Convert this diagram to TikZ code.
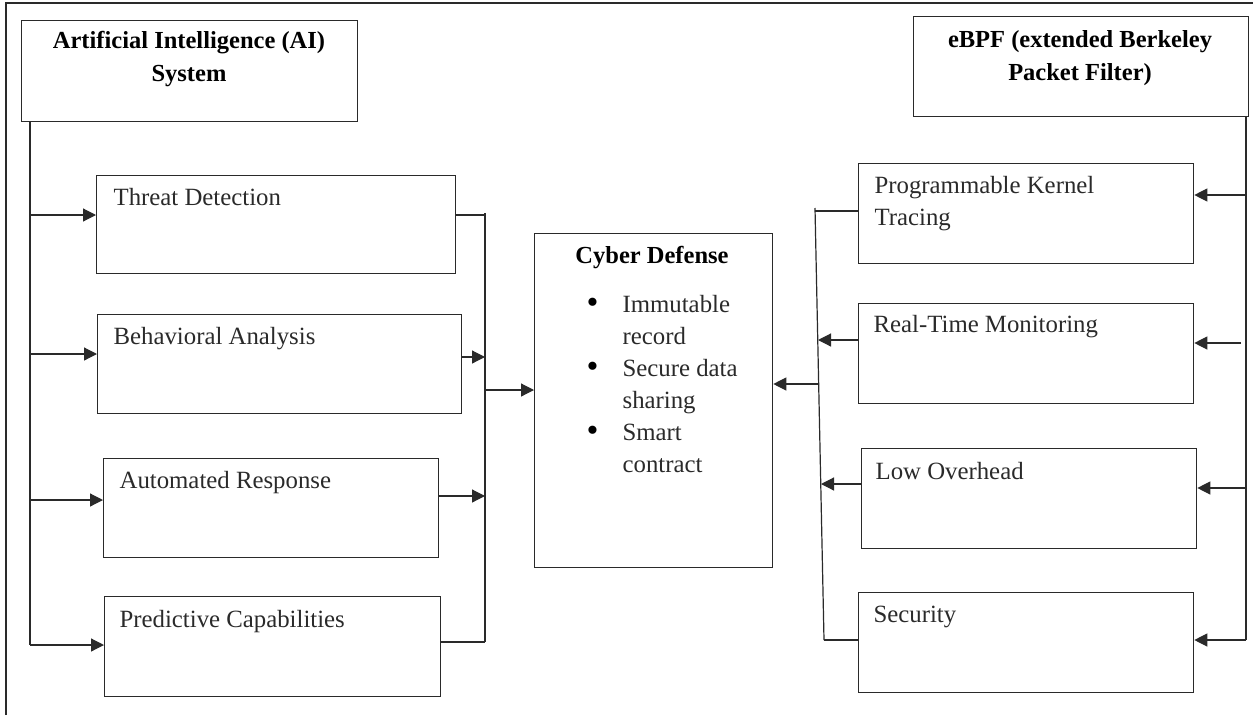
\documentclass[tikz,border=0pt]{standalone}
\usepackage{fontspec}
\setmainfont{Liberation Serif}
\usetikzlibrary{arrows.meta}
\definecolor{ink}{HTML}{2A2A2A}
\newcommand{\bulletmark}{\makebox[36pt][l]{\raisebox{-1.5pt}{\fontsize{34}{32}\selectfont\color{black}\textbullet}}}
\begin{document}
\begin{tikzpicture}[x=1pt,y=-1pt,
  line width=1.2pt,
  box/.style={draw=ink, line width=1.3pt, inner sep=0pt, anchor=north west},
  title/.style={font=\fontsize{24.5}{33}\selectfont\bfseries, align=center, anchor=base, inner sep=0pt, text=black},
  label/.style={font=\fontsize{24.8}{32}\selectfont, align=left, anchor=base west, inner sep=0pt, text=ink},
  wire/.style={draw=ink, line width=1.2pt},
  arr/.style={wire, -{Triangle[length=13pt,width=13pt]}}]
\useasboundingbox (0,0) rectangle (1253,715);

% frame edges
\coordinate (fTL) at (6,3);
\coordinate (fBL) at (6,715);
\coordinate (fTR) at (1253,3);
\draw[wire] (fBL) -- (fTL) -- (fTR);

% headers (anchor base = last line)
\node[box, minimum width=336pt, minimum height=101pt] (ai) at (21,20) {};
\node[title] (aiT) at (189,81) {Artificial Intelligence (AI)\\System};
\node[box, minimum width=335pt, minimum height=100pt] (eb) at (913,16) {};
\node[title] (ebT) at (1080,80) {eBPF (extended Berkeley\\Packet Filter)};

% AI components
\node[box, minimum width=359pt, minimum height=98pt] (td) at (96,175) {};
\node[label] (tdT) at (113,205) {Threat Detection};
\node[box, minimum width=364pt, minimum height=99pt] (ba) at (97,314) {};
\node[label] (baT) at (113,344) {Behavioral Analysis};
\node[box, minimum width=335pt, minimum height=99pt] (ar) at (103,458) {};
\node[label] (arT) at (119,488) {Automated Response};
\node[box, minimum width=336pt, minimum height=100pt] (pc) at (104,596) {};
\node[label] (pcT) at (119,627) {Predictive Capabilities};

% eBPF components
\node[box, minimum width=335pt, minimum height=100pt] (pk) at (858,163) {};
\node[label] (pkT) at (874,225) {Programmable Kernel\\Tracing};
\node[box, minimum width=335pt, minimum height=100pt] (rt) at (858,303) {};
\node[label] (rtT) at (873,332) {Real-Time Monitoring};
\node[box, minimum width=335pt, minimum height=100pt] (lo) at (861,448) {};
\node[label] (loT) at (875,479) {Low Overhead};
\node[box, minimum width=335pt, minimum height=100pt] (se) at (858,592) {};
\node[label] (seT) at (873,622) {Security};

% central block
\node[box, minimum width=238pt, minimum height=334pt] (cd) at (534,233) {};
\node[title] (cdT) at (652,263) {Cyber Defense};
\node[label] (cdL) at (586,472) {\bulletmark Immutable\\
  \hspace*{36pt}record\\
  \bulletmark Secure data\\
  \hspace*{36pt}sharing\\
  \bulletmark Smart\\
  \hspace*{36pt}contract};

% AI trunk and branches
\coordinate (lTop) at (30,121);
\coordinate (l1) at (30,215);
\coordinate (l2) at (30,354);
\coordinate (l3) at (30,500);
\coordinate (l4) at (30,645);
\draw[wire] (lTop) -- (l4);
\draw[arr] (l1) -- (l1 -| td.west);
\draw[arr] (l2) -- (l2 -| ba.west);
\draw[arr] (l3) -- (l3 -| ar.west);
\draw[arr] (l4) -- (l4 -| pc.west);

% left collector
\coordinate (c0) at (485,213);
\coordinate (c1) at (485,215);
\coordinate (c2) at (485,357);
\coordinate (c3) at (485,496);
\coordinate (c4) at (485,642);
\coordinate (cm) at (485,390);
\draw[wire] (c0) -- (c4);
\draw[wire] (c1 -| td.east) -- (c1);
\draw[arr] (c2 -| ba.east) -- (c2);
\draw[arr] (c3 -| ar.east) -- (c3);
\draw[wire] (c4 -| pc.east) -- (c4);
\draw[arr] (cm) -- (cm -| cd.west);

% eBPF trunk and branches
\coordinate (rTop) at (1246,116);
\coordinate (r1) at (1246,195);
\coordinate (r2) at (1241,343);
\coordinate (r3) at (1246,488);
\coordinate (r4) at (1246,640);
\draw[wire] (rTop) -- (r4);
\draw[arr] (r1) -- (r1 -| pk.east);
\draw[arr] (r2) -- (r2 -| rt.east);
\draw[arr] (r3) -- (r3 -| lo.east);
\draw[arr] (r4) -- (r4 -| se.east);

% right collector
\coordinate (d0) at (815,208);
\coordinate (d1) at (815,211);
\coordinate (d2) at (818,340);
\coordinate (d3) at (821,484);
\coordinate (d4) at (824,640);
\coordinate (dm) at (819,384);
\draw[wire] (d0) -- (d4);
\draw[wire] (d1 -| pk.west) -- (d1);
\draw[arr] (d2 -| rt.west) -- (d2);
\draw[arr] (d3 -| lo.west) -- (d3);
\draw[wire] (d4 -| se.west) -- (d4);
\draw[arr] (dm) -- (dm -| cd.east);
\end{tikzpicture}
\end{document}
